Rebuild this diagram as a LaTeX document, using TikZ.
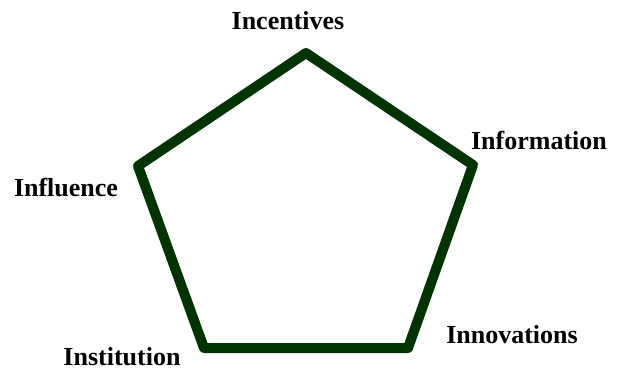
\documentclass[tikz,border=0pt]{standalone}
\usepackage{fontspec}
\setmainfont{Liberation Serif}
\definecolor{pentgreen}{RGB}{0,51,0}
\begin{document}
\begin{tikzpicture}[x=1pt,y=-1pt,
  lbl/.style={anchor=base,inner sep=0pt,font=\fontsize{26}{30}\selectfont\bfseries},
  edge/.style={draw=pentgreen,line width=10pt,line join=round,line cap=round}]
\useasboundingbox (0,0) rectangle (618,371);
\coordinate (top) at (306,53);
\coordinate (rt) at (473,165);
\coordinate (br) at (408,348);
\coordinate (bl) at (204,348);
\coordinate (lt) at (138,166);
\draw[edge] (top) -- (rt) -- (br) -- (bl) -- (lt) -- cycle;
\node[lbl] (inc) at (288,30) {Incentives};
\node[lbl] (inf) at (539,150) {Information};
\node[lbl] (inn) at (512,343) {Innovations};
\node[lbl] (ins) at (122,365) {Institution};
\node[lbl] (ifl) at (66,197) {Influence};
\end{tikzpicture}
\end{document}
